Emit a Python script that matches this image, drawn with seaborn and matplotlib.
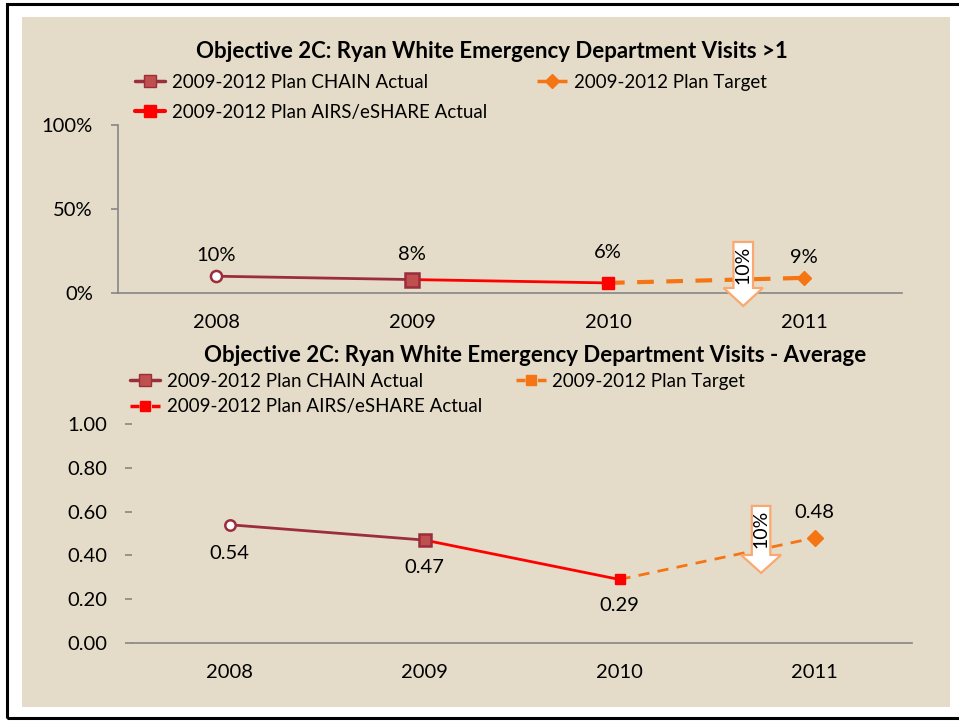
import numpy as np
import pandas as pd
import matplotlib
matplotlib.use("Agg")
import matplotlib.pyplot as plt
import seaborn as sns
from matplotlib.lines import Line2D
from matplotlib.patches import Rectangle, FancyArrow

# ---- data -------------------------------------------------------------
year_labels = ["2008", "2009", "2010", "2011"]

# Share of Ryan White clients with more than one ED visit
pct_chain = [0.10, 0.08, np.nan, np.nan]
pct_airs = [np.nan, 0.08, 0.06, np.nan]
pct_target = [np.nan, np.nan, 0.06, 0.09]
pct_labels = ["10%", "8%", "6%", "9%"]
pct_ticks = [0.0, 0.5, 1.0]
pct_tick_labels = ["0%", "50%", "100%"]

# Average ED visits per client
avg_chain = [0.54, 0.47, np.nan, np.nan]
avg_airs = [np.nan, 0.47, 0.29, np.nan]
avg_target = [np.nan, np.nan, 0.29, 0.48]
avg_labels = ["0.54", "0.47", "0.29", "0.48"]
avg_ticks = [0.0, 0.2, 0.4, 0.6, 0.8, 1.0]
avg_tick_labels = ["0.00", "0.20", "0.40", "0.60", "0.80", "1.00"]

reduction_goal = "10%"

series_names = ["2009-2012 Plan CHAIN Actual",
                "2009-2012 Plan AIRS/eSHARE Actual",
                "2009-2012 Plan Target"]
titles = ["Objective 2C: Ryan White Emergency Department Visits >1",
          "Objective 2C: Ryan White Emergency Department Visits - Average"]

# ---- style ------------------------------------------------------------
sns.set_theme(style="white")
FONT = ["Lato", "DejaVu Sans"]
plt.rcParams["font.family"] = FONT
plt.rcParams["text.color"] = "black"
plt.rcParams["xtick.color"] = "black"
plt.rcParams["ytick.color"] = "black"

BG = "#E4DCC8"
CHAIN = "#9B2D3C"
CHAIN_FILL = "#C0504D"
AIRS = "#FF0000"
TARGET = "#F57414"
ARROW_EDGE = "#F9A870"
AXIS = "#868686"

W, H = 959, 721
fig = plt.figure(figsize=(W / 100, H / 100), dpi=100)
fig.patch.set_facecolor("white")

# outer frame and beige chart area
fig.patches.append(Rectangle((7 / W, 3 / H), 1.0, 1 - 7 / H, transform=fig.transFigure,
                             fill=False, edgecolor="black", linewidth=2.2, zorder=-2))
fig.patches.append(Rectangle((22 / W, 14 / H), (950 - 22) / W, (707 - 17) / H,
                             transform=fig.transFigure, facecolor=BG, edgecolor="none",
                             zorder=-1))

x = np.arange(len(year_labels))


def frame(vals):
    return pd.DataFrame({"x": x, "y": vals}).dropna()


def draw_panel(ax, chain, airs, target, labels, label_dy, sizes, target_lw, dashes,
               arrow, left_spine):
    ax.set_facecolor("none")
    sns.lineplot(data=frame(chain), x="x", y="y", ax=ax, color=CHAIN, linewidth=2.0,
                 zorder=3)
    sns.lineplot(data=frame(airs), x="x", y="y", ax=ax, color=AIRS, linewidth=2.0,
                 zorder=3)
    sns.lineplot(data=frame(target), x="x", y="y", ax=ax, color=TARGET,
                 linewidth=target_lw, zorder=3)
    ax.lines[-1].set_dashes(dashes)

    c_ms, sq_ms, red_ms, d_ms = sizes
    # 2008 baseline point: hollow circle
    ax.plot(x[0], chain[0], marker="o", ms=c_ms, mfc="white", mec=CHAIN, mew=1.8,
            zorder=5, clip_on=False)
    ax.plot(x[1], chain[1], marker="s", ms=sq_ms, mfc=CHAIN_FILL, mec=CHAIN, mew=1.8,
            zorder=5, clip_on=False)
    ax.plot(x[2], airs[2], marker="s", ms=red_ms, mfc=AIRS, mec=AIRS, zorder=5,
            clip_on=False)
    ax.plot(x[3], target[3], marker="D", ms=d_ms, mfc=TARGET, mec=TARGET, zorder=5,
            clip_on=False)

    values = [chain[0], chain[1], airs[2], target[3]]
    for xi, v, lab, dy in zip(x, values, labels, label_dy):
        ax.annotate(lab, (xi, v), xytext=(0, dy), textcoords="offset points",
                    ha="center", va="center", fontsize=14.5, color="black", zorder=6)

    ax_x, top, head_start, tip, shaft_w, head_w, text_y = arrow
    ax.add_patch(FancyArrow(ax_x, top, 0, tip - top, width=shaft_w, head_width=head_w,
                            head_length=head_start - tip, length_includes_head=True,
                            facecolor="white", edgecolor=ARROW_EDGE, linewidth=1.6,
                            zorder=7, clip_on=False))
    ax.text(ax_x, text_y, reduction_goal, rotation=90, ha="center", va="center",
            fontsize=14, color="black", zorder=8)

    ax.set_xlim(-0.5, 3.5)
    ax.set_xticks(x)
    ax.set_xticklabels(year_labels, fontsize=14.5)
    ax.set_xlabel("")
    ax.set_ylabel("")
    for s in ["top", "right"]:
        ax.spines[s].set_visible(False)
    ax.spines["bottom"].set_color(AXIS)
    ax.spines["bottom"].set_linewidth(1.2)
    ax.spines["left"].set_color(AXIS)
    ax.spines["left"].set_linewidth(1.2)
    ax.spines["left"].set_visible(left_spine)
    ax.tick_params(axis="x", length=0, pad=15)
    ax.tick_params(axis="y", length=5, width=1.2, color=AXIS, direction="out", pad=13,
                   labelsize=14.5, left=True)
    ax.grid(False)


def legend(handles, anchor, colspace, rowspace):
    fig.legend(handles=handles, labels=series_names, loc="upper left",
               bbox_to_anchor=anchor, bbox_transform=fig.transFigure, ncol=2,
               frameon=False, fontsize=13.5, handlelength=1.6, handletextpad=0.35,
               columnspacing=colspace, labelspacing=rowspace, borderpad=0,
               borderaxespad=0)


# symmetric dash pattern for short legend keys: dash | marker | dash
KEY_DASH = (0, (2.6, 1.2, 1.2, 1.2, 2.6, 1.2))

# ---- top panel: percentage with more than one visit --------------------
ax1 = fig.add_axes([118 / W, 1 - 293 / H, (902 - 118) / W, (293 - 125) / H])
draw_panel(ax1, pct_chain, pct_airs, pct_target, pct_labels, [15, 18, 22, 15],
           (8, 9.5, 8.5, 7.5), 3.0, (4, 3),
           (2.69, 0.304, 0.030, -0.077, 0.10, 0.20, 0.17), True)
ax1.set_ylim(0, 1)
ax1.set_yticks(pct_ticks)
ax1.set_yticklabels(pct_tick_labels)
fig.text(492 / W, 1 - 51 / H, titles[0], ha="center", va="center", fontsize=16,
         fontweight="bold")

h_top = [Line2D([], [], color=CHAIN, lw=2.5, marker="s", ms=9, mfc=CHAIN_FILL, mec=CHAIN),
         Line2D([], [], color=AIRS, lw=3, marker="s", ms=9, mfc=AIRS, mec=AIRS),
         Line2D([], [], color=TARGET, lw=2.5, ls=KEY_DASH, marker="D", ms=7,
                mfc=TARGET, mec=TARGET)]
legend(h_top, (135 / W, 1 - 74 / H), 2.7, 0.68)

# ---- bottom panel: average visits ------------------------------------
ax2 = fig.add_axes([132 / W, 1 - 643 / H, (912 - 132) / W, (643 - 424) / H])
draw_panel(ax2, avg_chain, avg_airs, avg_target, avg_labels, [-21, -20, -19, 18],
           (7.5, 9, 7.5, 8), 2.0, (4, 3),
           (2.726, 0.626, 0.402, 0.320, 0.095, 0.205, 0.52), False)
ax2.set_ylim(0, 1)
ax2.set_yticks(avg_ticks)
ax2.set_yticklabels(avg_tick_labels)
fig.text(535 / W, 1 - 355 / H, titles[1], ha="center", va="center", fontsize=16,
         fontweight="bold")

h_bot = [Line2D([], [], color=CHAIN, lw=2.5, marker="s", ms=9, mfc=CHAIN_FILL, mec=CHAIN),
         Line2D([], [], color=AIRS, lw=2.5, ls=KEY_DASH, marker="s", ms=7, mfc=AIRS,
                mec=AIRS),
         Line2D([], [], color=TARGET, lw=2.5, ls=KEY_DASH, marker="s", ms=7,
                mfc=TARGET, mec=TARGET)]
legend(h_bot, (130 / W, 1 - 373 / H), 1.8, 0.45)

fig.savefig("out.png", dpi=100, facecolor="white")
